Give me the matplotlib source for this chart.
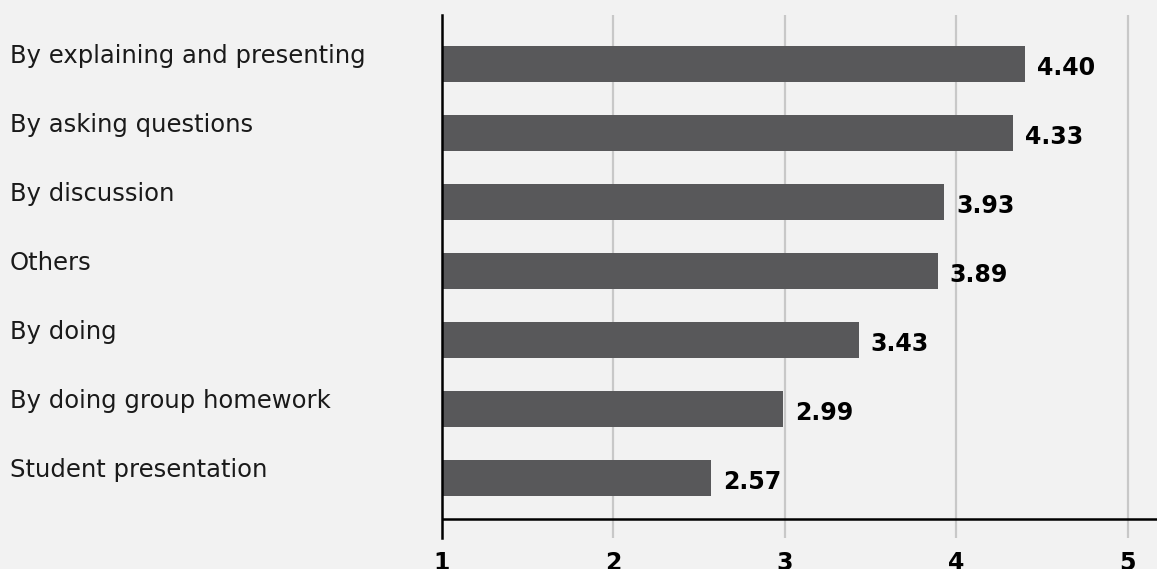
import matplotlib.pyplot as plt
import matplotlib.transforms as mtransforms

categories = ['By explaining and presenting', 'By asking questions', 'By discussion',
              'Others', 'By doing', 'By doing group homework', 'Student presentation']
scores = [4.40, 4.33, 3.93, 3.89, 3.43, 2.99, 2.57]
ticks = [1, 2, 3, 4, 5]

bg = '#f2f2f2'
bar_color = '#58585a'

plt.rcParams['font.family'] = ['DejaVu Sans']

fig = plt.figure(figsize=(11.57, 5.69), dpi=100, facecolor=bg)
ax = fig.add_axes([442 / 1157, 31 / 569, 1 - 442 / 1157, 523 / 569])
ax.set_facecolor(bg)

pos = list(range(len(categories)))
ax.barh(pos, [s - 1 for s in scores], left=1, height=0.52, color=bar_color, zorder=3)

for p, s in zip(pos, scores):
    ax.text(s + 0.07, p + 0.06, '%.2f' % s, va='center', ha='left',
            fontsize=17, fontweight='bold', color='black', zorder=4)

# category names sit at the left edge of the figure
trans = mtransforms.blended_transform_factory(fig.transFigure, ax.transData)
for p, c in zip(pos, categories):
    ax.text(10 / 1157, p - 0.12, c, transform=trans, va='center', ha='left',
            fontsize=17.5, color='#1a1a1a')

ax.set_xlim(1, 5.17)
ax.set_ylim(6.87, -0.71)

for t in ticks[1:]:
    ax.axvline(t, color='#c8c8c8', lw=1.6, zorder=1)
ax.axhline(6.59, color='black', lw=1.8, zorder=5)

for side in ['top', 'right', 'bottom']:
    ax.spines[side].set_visible(False)
ax.spines['left'].set_linewidth(1.8)
ax.spines['left'].set_zorder(6)

ax.set_yticks([])
ax.set_xticks(ticks)
ax.set_xticklabels([str(t) for t in ticks], fontsize=17, fontweight='bold')
ax.tick_params(axis='x', length=0, pad=9)

fig.savefig('out.png', dpi=100, facecolor=bg)
